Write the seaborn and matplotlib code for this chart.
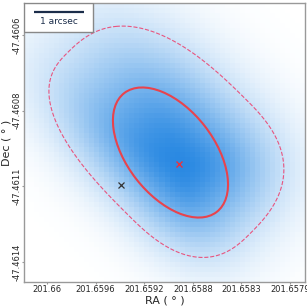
import numpy as np
import matplotlib
matplotlib.use("Agg")
import matplotlib.pyplot as plt
from matplotlib.patches import Ellipse, Rectangle
import seaborn as sns

# ---- data (image pixel coordinates, WCS-style labels) ----
n_pix = 56
ra_tick_pos = [4.58, 14.27, 23.95, 33.64, 43.33, 53.01]
ra_tick_labels = ["201.66", "201.6596", "201.6592", "201.6588", "201.6583", "201.6579"]
dec_tick_pos = [6.42, 21.61, 36.80, 51.99]
dec_tick_labels = ["-47.4606", "-47.4608", "-47.4611", "-47.4614"]

# probability map model (centre, asymmetric extents, shape exponent)
map_centre = (31.09, 32.52)
map_len_ul, map_len_lr = 31.8, 19.6
map_wid_ur, map_wid_ll = 18.6, 14.4
map_exp = 2.6
map_falloff = 1.4
contour_rho = 1.0

# error ellipse
ell_centre = (29.19, 30.01)
ell_a, ell_b, ell_angle = 15.07, 8.65, 52.4

# sources
src_red = (30.89, 32.32)
src_black = (19.33, 36.53)

# scale bar (1 arcsec in image pixels)
bar_start = (1.93, 1.87)
pix_per_arcsec = 9.96
bar_label = "1 arcsec"


def prob_map(c, r):
    dc = c - map_centre[0]
    dr = r - map_centre[1]
    du = (dc + dr) / np.sqrt(2)
    dv = (dc - dr) / np.sqrt(2)
    lu = np.where(du < 0, map_len_ul, map_len_lr)
    lv = np.where(dv > 0, map_wid_ur, map_wid_ll)
    rho = (np.abs(du / lu) ** map_exp + np.abs(dv / lv) ** map_exp) ** (1 / map_exp)
    return np.exp(-map_falloff * rho ** 2)


cc, rr = np.meshgrid(np.arange(n_pix) + 0.5, np.arange(n_pix) + 0.5)
img = prob_map(cc, rr)

sns.set_style("white")
plt.rcParams["font.family"] = ["DejaVu Sans"]
fig = plt.figure(figsize=(3.07, 3.07), dpi=100)
ax = fig.add_axes([24 / 307, 25 / 307, 281 / 307, 279 / 307])

cmap = sns.blend_palette(["#ffffff", "#2a89e2"], as_cmap=True)
sns.heatmap(img, cmap=cmap, vmin=0, vmax=1, cbar=False, ax=ax,
            xticklabels=False, yticklabels=False)

fc = np.linspace(0, n_pix, 500)
FC, FR = np.meshgrid(fc, fc)
ax.contour(FC, FR, prob_map(FC, FR),
           levels=[np.exp(-map_falloff * contour_rho ** 2)],
           colors="#e8557f", linestyles="--", linewidths=0.8)

ax.add_patch(Ellipse(ell_centre, 2 * ell_a, 2 * ell_b, angle=ell_angle,
                     fill=False, edgecolor="#e8434d", linewidth=1.5))
ax.plot(*src_red, marker="x", color="#e8333f", markersize=4, mew=1.0, ls="none")
ax.plot(*src_black, marker="x", color="#333333", markersize=5, mew=0.9, ls="none")

ax.set_xlim(0, n_pix)
ax.set_ylim(n_pix, 0)
ax.set_xticks(ra_tick_pos, ra_tick_labels, fontsize=6)
ax.set_yticks(dec_tick_pos, dec_tick_labels, fontsize=6, rotation=90, va="center")
ax.tick_params(axis="x", length=1.5, width=0.8, color="#999999", pad=0.5, bottom=True)
ax.tick_params(axis="y", length=1.5, width=0.8, color="#999999", pad=0.3, left=True)
ax.set_xlabel("RA ( ° )", fontsize=8, va="center")
ax.set_ylabel("Dec ( ° )", fontsize=8, va="center")
ax.xaxis.set_label_coords(0.5, -18.5 / 279)
ax.yaxis.set_label_coords(-17.5 / 281, 0.5)
for s in ax.spines.values():
    s.set_visible(True)
    s.set_color("#999999")
    s.set_linewidth(1.0)

# scale bar box
ax.add_patch(Rectangle((0, 1 - 29 / 279), 69 / 281, 29 / 279, transform=ax.transAxes,
                       facecolor="white", edgecolor="#888888", linewidth=1.0, zorder=5))
ax.plot([bar_start[0], bar_start[0] + pix_per_arcsec], [bar_start[1]] * 2,
        color="#1b2d4a", linewidth=1.6, solid_capstyle="butt", zorder=6)
ax.text(bar_start[0] + pix_per_arcsec / 2, bar_start[1] + 1.0, bar_label,
        ha="center", va="top", fontsize=6.5, color="#1b2d4a", zorder=6)

fig.savefig("out.png", dpi=100)
